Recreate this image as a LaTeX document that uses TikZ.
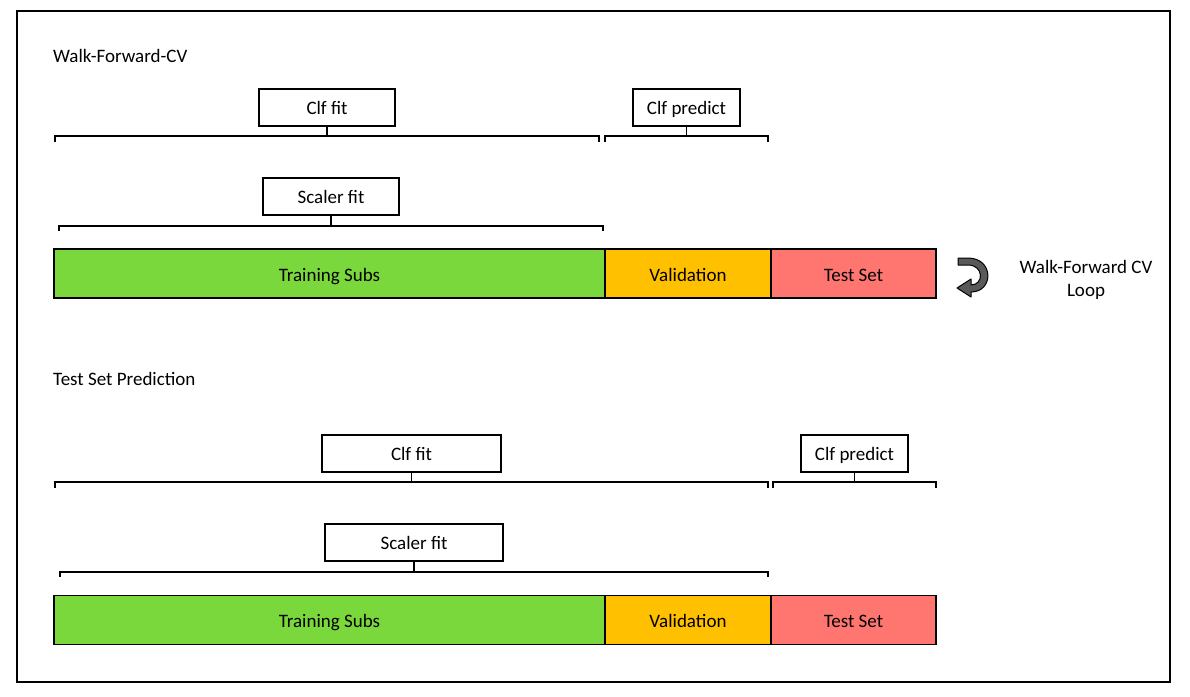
\documentclass[tikz,border=0pt]{standalone}
\usepackage{fontspec}
\setmainfont{Carlito}
\usepackage{xcolor}
\usetikzlibrary{positioning}

\definecolor{trainGreen}{HTML}{7BD83C}
\definecolor{validOrange}{HTML}{FFC000}
\definecolor{testRed}{HTML}{FF7671}

\begin{document}
\begin{tikzpicture}[x=1pt,y=-1pt]
\tikzset{font=\fontsize{19}{23}\selectfont}
\tikzstyle{fitbox} =[draw, line width=1.2pt, minimum height=37pt, inner sep=0pt, text height=15pt, text depth=2pt]
\tikzstyle{bar} =[draw, line width=1.4pt, minimum height=49pt, inner sep=0pt, outer sep=0pt, anchor=west, text height=16pt, text depth=1pt]
\tikzstyle{brk} =[line width=1.2pt]
\tikzstyle{title} =[anchor=west, inner sep=0pt]

\useasboundingbox (0,0) rectangle (1190,696);
\draw[line width=2pt] (17,11) rectangle (1170,682);

% walk-forward cv
\node[title](cvtitle) at (53,56){Walk-Forward-CV};
\node[fitbox,minimum width=136pt](clffitA) at (327,107.5){Clf fit};
\node[fitbox,minimum width=107pt](clfpredA) at (686.5,107.5){Clf predict};
\node[fitbox,minimum width=136pt](scalerA) at (331,196.5){Scaler fit};

\draw[brk] (55,142) -- (55,136) -- (599,136) -- (599,142);
\draw[brk] (clffitA.south) -- (clffitA.south |- 0,136);
\draw[brk] (605,142) -- (605,136) -- (768,136) -- (768,142);
\draw[brk] (clfpredA.south) -- (clfpredA.south |- 0,136);
\draw[brk] (59,231) -- (59,226) -- (603,226) -- (603,231);
\draw[brk] (scalerA.south) -- (scalerA.south |- 0,226);

\node[bar,fill=trainGreen,minimum width=551pt](trainA) at (54,273.5){Training Subs};
\node[bar,fill=validOrange,minimum width=166pt,right=0pt of trainA](validA){Validation};
\node[bar,fill=testRed,minimum width=165pt,right=0pt of validA](testA){Test Set};

% loop arrow
\filldraw[fill=black!65,draw=black,line width=1pt,line join=round]
  (958,258) -- (968,258) .. controls (994,258) and (994,292) .. (971,292)
  -- (971,297) -- (957,288) -- (971,279) -- (971,285)
  .. controls (984,285) and (984,265) .. (968,265) -- (958,265) -- cycle;
\node[align=center](looptext) at (1086,280){Walk-Forward CV\\Loop};

% test set prediction
\node[title](tstitle) at (53,379){Test Set Prediction};
\node[fitbox,minimum width=179pt](clffitB) at (411.5,453.5){Clf fit};
\node[fitbox,minimum width=107pt](clfpredB) at (854.5,453.5){Clf predict};
\node[fitbox,minimum width=178pt](scalerB) at (414,542.5){Scaler fit};

\draw[brk] (55,488) -- (55,482) -- (768,482) -- (768,488);
\draw[brk] (clffitB.south) -- (clffitB.south |- 0,482);
\draw[brk] (773,488) -- (773,482) -- (936,482) -- (936,488);
\draw[brk] (clfpredB.south) -- (clfpredB.south |- 0,482);
\draw[brk] (60,577) -- (60,572) -- (768,572) -- (768,577);
\draw[brk] (scalerB.south) -- (scalerB.south |- 0,572);

\node[bar,fill=trainGreen,minimum width=551pt](trainB) at (54,620){Training Subs};
\node[bar,fill=validOrange,minimum width=166pt,right=0pt of trainB](validB){Validation};
\node[bar,fill=testRed,minimum width=165pt,right=0pt of validB](testB){Test Set};
\end{tikzpicture}
\end{document}
